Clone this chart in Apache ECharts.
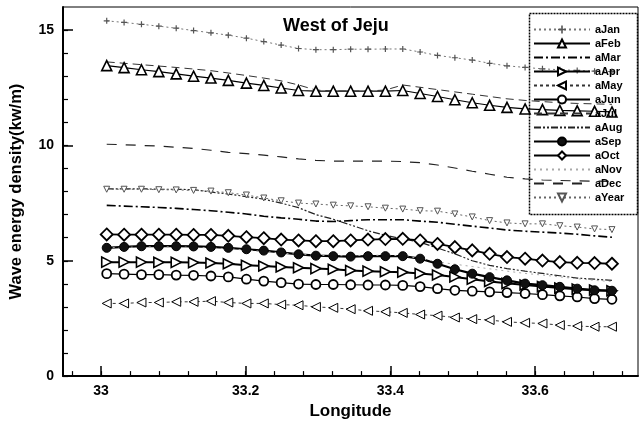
<!DOCTYPE html>
<html>
<head>
<meta charset="utf-8">
<script src="https://cdn.jsdelivr.net/npm/echarts@6/dist/echarts.min.js"></script>
<style>
  html, body { margin: 0; padding: 0; background: #fff; }
  #chart { width: 643px; height: 425px; }
</style>
</head>
<body>
<div id="chart"></div>
<script>
// longitude of each sample point
const longitudes = [33.008, 33.032, 33.056, 33.080, 33.104, 33.128, 33.152, 33.176, 33.201, 33.225,
  33.249, 33.273, 33.297, 33.321, 33.345, 33.369, 33.393, 33.417, 33.441, 33.465,
  33.489, 33.513, 33.537, 33.561, 33.586, 33.610, 33.634, 33.658, 33.682, 33.706]

// monthly / yearly wave energy density (kw/m)
const aJan = [15.40, 15.33, 15.25, 15.17, 15.08, 14.98, 14.88, 14.78, 14.65, 14.50,
  14.35, 14.20, 14.15, 14.15, 14.17, 14.17, 14.18, 14.18, 14.05, 13.90,
  13.80, 13.70, 13.56, 13.45, 13.38, 13.32, 13.28, 13.25, 13.22, 13.20]
const aFeb = [13.46, 13.37, 13.28, 13.20, 13.10, 13.00, 12.92, 12.82, 12.70, 12.60,
  12.49, 12.38, 12.35, 12.35, 12.35, 12.35, 12.35, 12.38, 12.25, 12.12,
  11.98, 11.85, 11.74, 11.65, 11.58, 11.55, 11.52, 11.50, 11.48, 11.45]
const aMar = [7.40, 7.37, 7.34, 7.31, 7.27, 7.22, 7.17, 7.10, 7.03, 6.93,
  6.86, 6.80, 6.72, 6.70, 6.74, 6.78, 6.78, 6.78, 6.72, 6.67,
  6.58, 6.50, 6.42, 6.33, 6.28, 6.24, 6.20, 6.15, 6.08, 6.02]
const aApr = [4.94, 4.94, 4.94, 4.93, 4.93, 4.92, 4.90, 4.87, 4.80, 4.77,
  4.73, 4.70, 4.66, 4.63, 4.58, 4.55, 4.52, 4.50, 4.45, 4.38,
  4.30, 4.20, 4.10, 4.02, 3.95, 3.88, 3.82, 3.77, 3.73, 3.70]
const aMay = [3.15, 3.15, 3.19, 3.19, 3.22, 3.22, 3.25, 3.19, 3.15, 3.15,
  3.10, 3.07, 3.00, 2.96, 2.90, 2.83, 2.79, 2.74, 2.67, 2.62,
  2.54, 2.47, 2.43, 2.35, 2.31, 2.28, 2.21, 2.17, 2.14, 2.14]
const aJun = [4.44, 4.42, 4.40, 4.40, 4.38, 4.37, 4.34, 4.30, 4.20, 4.12,
  4.05, 3.99, 3.97, 3.97, 3.96, 3.95, 3.95, 3.93, 3.88, 3.79,
  3.72, 3.68, 3.65, 3.62, 3.58, 3.53, 3.48, 3.43, 3.36, 3.33]
const aJul = [13.62, 13.56, 13.50, 13.44, 13.38, 13.31, 13.24, 13.14, 13.03, 12.92,
  12.80, 12.62, 12.40, 12.36, 12.36, 12.36, 12.40, 12.62, 12.52, 12.42,
  12.32, 12.22, 12.12, 12.02, 11.95, 11.90, 11.85, 11.82, 11.80, 11.78]
const aAug = [8.12, 8.12, 8.12, 8.10, 8.10, 8.08, 7.98, 7.89, 7.78, 7.67,
  7.50, 7.30, 7.00, 6.80, 6.55, 6.30, 6.10, 5.95, 5.80, 5.55,
  5.30, 5.00, 4.80, 4.66, 4.55, 4.45, 4.35, 4.25, 4.20, 4.15]
const aSep = [5.56, 5.60, 5.63, 5.63, 5.63, 5.62, 5.60, 5.56, 5.50, 5.44,
  5.36, 5.28, 5.22, 5.20, 5.18, 5.20, 5.20, 5.20, 5.09, 4.87,
  4.63, 4.44, 4.29, 4.15, 4.01, 3.94, 3.87, 3.79, 3.72, 3.70]
const aOct = [6.14, 6.13, 6.13, 6.13, 6.13, 6.12, 6.12, 6.08, 6.02, 5.98,
  5.92, 5.88, 5.85, 5.85, 5.88, 5.92, 5.94, 5.95, 5.88, 5.73,
  5.59, 5.45, 5.30, 5.16, 5.09, 5.01, 4.94, 4.91, 4.90, 4.87]
const aNov = [5.56, 5.58, 5.60, 5.60, 5.60, 5.58, 5.56, 5.52, 5.46, 5.40,
  5.34, 5.28, 5.24, 5.22, 5.22, 5.24, 5.24, 5.22, 5.10, 4.95,
  4.85, 4.75, 4.65, 4.55, 4.45, 4.38, 4.30, 4.22, 4.15, 4.10]
const aDec = [10.05, 10.03, 10.00, 9.97, 9.92, 9.87, 9.79, 9.70, 9.64, 9.58,
  9.50, 9.42, 9.35, 9.32, 9.32, 9.32, 9.32, 9.30, 9.25, 9.15,
  9.02, 8.88, 8.75, 8.62, 8.55, 8.50, 8.48, 8.46, 8.45, 8.44]
const aYear = [8.10, 8.10, 8.10, 8.08, 8.07, 8.05, 8.02, 7.95, 7.85, 7.72,
  7.60, 7.50, 7.46, 7.41, 7.38, 7.34, 7.28, 7.24, 7.17, 7.15,
  7.03, 6.90, 6.74, 6.64, 6.60, 6.60, 6.52, 6.46, 6.38, 6.35]

// tick positions
const xMajorTicks = [33, 33.2, 33.4, 33.6]
const xMinorTicks = [32.96, 33.00, 33.04, 33.08, 33.12, 33.16, 33.20, 33.24, 33.28, 33.32,
  33.36, 33.40, 33.44, 33.48, 33.52, 33.56, 33.60, 33.64, 33.68, 33.72]
const yMajorTicks = [0, 5, 10, 15]
const yMinorTicks = [0, 1, 2, 3, 4, 5, 6, 7, 8, 9, 10, 11, 12, 13, 14, 15]

const FONT = 'Liberation Sans'
const X_MIN = 32.9476
const X_MAX = 33.742
const Y_MIN = 0
const Y_MAX = 16

const plus = 'path://M4,0H6V4H10V6H6V10H4V6H0V4H4Z'
const pts = (vals) => longitudes.map((x, i) => [x, vals[i]])

const hollow = (w) => ({ color: '#fff', borderColor: '#000', borderWidth: w })
// plain lines: keep the legend icon to the line only
const noMark = { color: 'rgba(0,0,0,0)', borderWidth: 0 }

const series = [
  { name: 'aJan', data: pts(aJan), symbol: plus, symbolSize: 6,
    itemStyle: { color: '#555' }, lineStyle: { color: '#777', width: 1, type: [2, 3] } },
  { name: 'aFeb', data: pts(aFeb), symbol: 'triangle', symbolSize: 10,
    itemStyle: hollow(1.6), lineStyle: { color: '#000', width: 1.2 } },
  { name: 'aMar', data: pts(aMar), symbol: 'none',
    itemStyle: noMark, lineStyle: { color: '#000', width: 1.6, type: [9, 3, 2, 3] } },
  { name: 'aApr', data: pts(aApr), symbol: 'triangle', symbolRotate: -90, symbolSize: 10,
    itemStyle: hollow(1.6), lineStyle: { color: '#000', width: 2 } },
  { name: 'aMay', data: pts(aMay), symbol: 'triangle', symbolRotate: 90, symbolSize: 9,
    itemStyle: hollow(1), lineStyle: { color: '#333', width: 1, type: [3, 3] } },
  { name: 'aJun', data: pts(aJun), symbol: 'circle', symbolSize: 9,
    itemStyle: hollow(1.8), lineStyle: { color: '#000', width: 1.2 } },
  { name: 'aJul', data: pts(aJul), symbol: 'none',
    itemStyle: noMark, lineStyle: { color: '#333', width: 1, type: [8, 5] } },
  { name: 'aAug', data: pts(aAug), symbol: 'none',
    itemStyle: noMark, lineStyle: { color: '#222', width: 1.2, type: [7, 2, 2, 2, 2, 2] } },
  { name: 'aSep', data: pts(aSep), symbol: 'circle', symbolSize: 9,
    itemStyle: { color: '#111', borderColor: '#000', borderWidth: 1 }, lineStyle: { color: '#000', width: 2.2 } },
  { name: 'aOct', data: pts(aOct), symbol: 'diamond', symbolSize: 12,
    itemStyle: hollow(1.8), lineStyle: { color: '#000', width: 1.8 } },
  { name: 'aNov', data: pts(aNov), symbol: 'none',
    itemStyle: noMark, lineStyle: { color: '#aaa', width: 1, type: [2, 4] } },
  { name: 'aDec', data: pts(aDec), symbol: 'none',
    itemStyle: noMark, lineStyle: { color: '#222', width: 1.2, type: [10, 9] } },
  { name: 'aYear', data: pts(aYear), symbol: 'triangle', symbolRotate: 180, symbolSize: 6,
    itemStyle: { color: '#fff', borderColor: '#555', borderWidth: 1 }, lineStyle: { color: '#666', width: 1, type: [2, 3] } },
].map((s) => ({ type: 'line', xAxisIndex: 0, yAxisIndex: 0, showSymbol: s.symbol !== 'none', animation: false, ...s }))

const chart = echarts.init(document.getElementById('chart'), null, { renderer: 'canvas' })

chart.setOption({
  backgroundColor: '#fff',
  animation: false,
  textStyle: { fontFamily: FONT },
  title: {
    text: 'West of Jeju',
    left: 278,
    top: 12,
    textStyle: { fontFamily: FONT, fontSize: 18, fontWeight: 'bold', color: '#000' },
  },
  grid: { left: 62, right: 5, top: 7, bottom: 47, show: true, borderColor: '#000', borderWidth: 1 },
  legend: {
    orient: 'vertical',
    left: 533,
    top: 24,
    padding: 0,
    itemWidth: 56,
    itemHeight: 10,
    itemGap: 3,
    textStyle: { fontFamily: FONT, fontSize: 11, fontWeight: 'bold', color: '#000', lineHeight: 10 },
    data: series.map((s) => s.name),
  },
  xAxis: [
    {
      type: 'value',
      min: X_MIN,
      max: X_MAX,
      name: 'Longitude',
      nameLocation: 'middle',
      nameGap: 22,
      nameTextStyle: { fontFamily: FONT, fontSize: 17, fontWeight: 'bold', color: '#000' },
      axisLine: { show: true, lineStyle: { color: '#000', width: 2 } },
      axisTick: { show: true, inside: true, length: 10, customValues: xMajorTicks, lineStyle: { color: '#000', width: 1.5 } },
      axisLabel: { customValues: xMajorTicks, margin: 8, fontFamily: FONT, fontSize: 14, fontWeight: 'bold', color: '#000' },
      splitLine: { show: false },
    },
    {
      type: 'value',
      min: X_MIN,
      max: X_MAX,
      position: 'bottom',
      axisLine: { show: false },
      axisTick: { show: true, inside: true, length: 5, customValues: xMinorTicks, lineStyle: { color: '#000', width: 1.2 } },
      axisLabel: { show: false },
      splitLine: { show: false },
    },
  ],
  yAxis: [
    {
      type: 'value',
      min: Y_MIN,
      max: Y_MAX,
      name: 'Wave energy density(kw/m)',
      nameLocation: 'middle',
      nameGap: 38,
      nameTextStyle: { fontFamily: FONT, fontSize: 16.5, fontWeight: 'bold', color: '#000' },
      axisLine: { show: true, lineStyle: { color: '#000', width: 2 } },
      axisTick: { show: true, inside: true, length: 10, customValues: yMajorTicks, lineStyle: { color: '#000', width: 1.5 } },
      axisLabel: { customValues: yMajorTicks, margin: 9, fontFamily: FONT, fontSize: 14, fontWeight: 'bold', color: '#000' },
      splitLine: { show: false },
    },
    {
      type: 'value',
      min: Y_MIN,
      max: Y_MAX,
      position: 'left',
      axisLine: { show: false },
      axisTick: { show: true, inside: true, length: 5, customValues: yMinorTicks, lineStyle: { color: '#000', width: 1.2 } },
      axisLabel: { show: false },
      splitLine: { show: false },
    },
  ],
  graphic: [
    {
      type: 'rect',
      left: 527,
      top: 11,
      shape: { width: 108, height: 201 },
      style: { fill: 'none', stroke: '#000', lineWidth: 1.5, lineDash: [2, 1] },
      z: 100,
    },
  ],
  series,
})
</script>
</body>
</html>
